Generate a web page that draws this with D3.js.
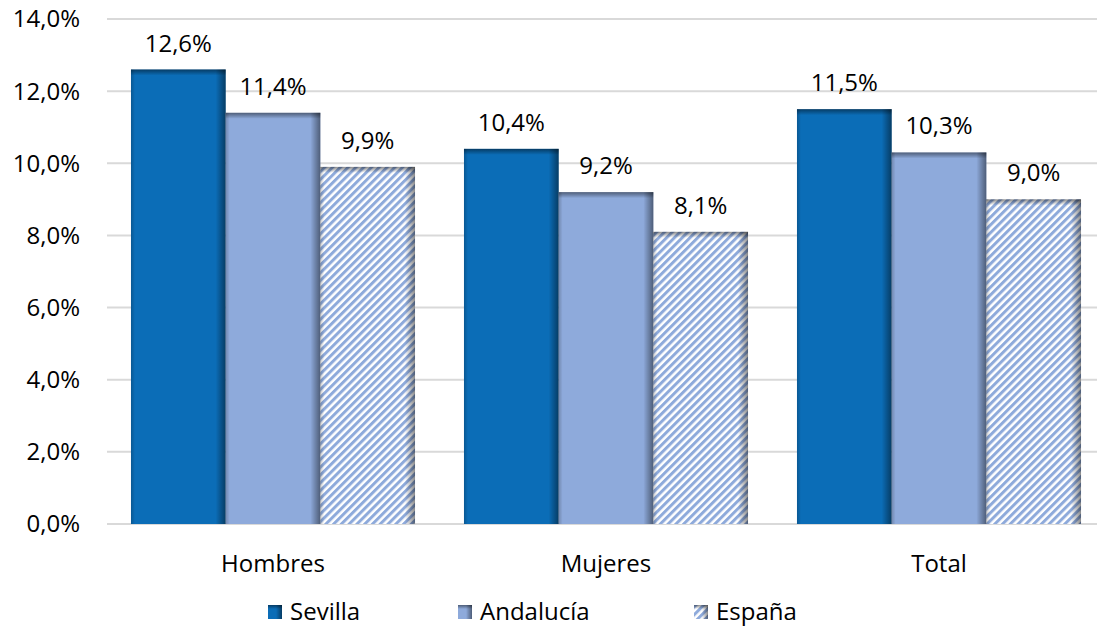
<!DOCTYPE html>
<html>
<head>
<meta charset="utf-8">
<script src="https://cdn.jsdelivr.net/npm/d3@7/dist/d3.min.js"></script>
<style>
  body { margin: 0; background: #fff; }
  text { font-family: "Open Sans", "Noto Sans", sans-serif; fill: #000; }
</style>
</head>
<body>
<svg id="chart" width="1100" height="627"></svg>
<script>
// data
var categories = ['Hombres', 'Mujeres', 'Total'];
var seriesNames = ['Sevilla', 'Andalucía', 'España'];
var sevilla = [12.6, 10.4, 11.5];
var andalucia = [11.4, 9.2, 10.3];
var espana = [9.9, 8.1, 9.0];
var yTicks = [0, 2, 4, 6, 8, 10, 12, 14];

var seriesValues = [sevilla, andalucia, espana];

var svg = d3.select('#chart');
var fmt = v => d3.format('.1f')(v).replace('.', ',') + '%';

var y = d3.scaleLinear().domain([0, 14]).range([524, 19]);
var x0 = d3.scaleBand().domain(categories).range([106.5, 1105.5])
  .paddingInner(0.147).paddingOuter(0.0735);
var x1 = d3.scaleBand().domain(seriesNames).range([0, x0.bandwidth()]);

var defs = svg.append('defs');

// hatch pattern for España
var pat = defs.append('pattern')
  .attr('id', 'hatch')
  .attr('patternUnits', 'userSpaceOnUse')
  .attr('width', 5.5).attr('height', 5.5)
  .attr('patternTransform', 'rotate(45)');
pat.append('rect').attr('width', 5.5).attr('height', 5.5).attr('fill', '#fff');
pat.append('rect').attr('width', 3).attr('height', 5.5).attr('fill', '#8eaadb');

// bevel gradients
var gr = defs.append('linearGradient').attr('id', 'shadeRight')
  .attr('x1', 0).attr('x2', 1).attr('y1', 0).attr('y2', 0);
gr.append('stop').attr('offset', '0%').attr('stop-color', '#000').attr('stop-opacity', 0);
gr.append('stop').attr('offset', '100%').attr('stop-color', '#000').attr('stop-opacity', 0.45);

var gt = defs.append('linearGradient').attr('id', 'shadeTop')
  .attr('x1', 0).attr('x2', 0).attr('y1', 0).attr('y2', 1);
gt.append('stop').attr('offset', '0%').attr('stop-color', '#000').attr('stop-opacity', 0.45);
gt.append('stop').attr('offset', '100%').attr('stop-color', '#000').attr('stop-opacity', 0);

var gl = defs.append('linearGradient').attr('id', 'shadeLeft')
  .attr('x1', 0).attr('x2', 1).attr('y1', 0).attr('y2', 0);
gl.append('stop').attr('offset', '0%').attr('stop-color', '#000').attr('stop-opacity', 0.2);
gl.append('stop').attr('offset', '100%').attr('stop-color', '#000').attr('stop-opacity', 0);

var fills = ['#0b6db7', '#8eaadb', 'url(#hatch)'];

// gridlines
svg.append('g').selectAll('line').data(yTicks).enter()
  .append('line')
  .attr('x1', 107).attr('x2', 1097)
  .attr('y1', d => y(d)).attr('y2', d => y(d))
  .attr('stroke', '#d9d9d9').attr('stroke-width', 2);

// y axis labels
svg.append('g').selectAll('text').data(yTicks).enter()
  .append('text')
  .attr('x', 80).attr('y', d => y(d))
  .attr('dy', '0.35em')
  .attr('text-anchor', 'end')
  .style('font-size', '24px')
  .text(fmt);

// bars
var bars = [];
categories.forEach(function(c, i) {
  seriesNames.forEach(function(s, j) {
    bars.push({cat: c, s: s, j: j, v: seriesValues[j][i]});
  });
});

var g = svg.append('g');
var bx = d => x0(d.cat) + x1(d.s);
var bw = x1.bandwidth();

g.selectAll('.bar').data(bars).enter()
  .append('rect').attr('class', 'bar')
  .attr('x', bx).attr('y', d => y(d.v))
  .attr('width', bw).attr('height', d => y(0) - y(d.v))
  .attr('fill', d => fills[d.j]);

// bevel: right edge, top edge, left edge
g.selectAll('.shr').data(bars).enter()
  .append('rect')
  .attr('x', d => bx(d) + bw - 10).attr('y', d => y(d.v))
  .attr('width', 10).attr('height', d => y(0) - y(d.v))
  .attr('fill', 'url(#shadeRight)');
g.selectAll('.sht').data(bars).enter()
  .append('rect')
  .attr('x', bx).attr('y', d => y(d.v))
  .attr('width', bw).attr('height', 6)
  .attr('fill', 'url(#shadeTop)');
g.selectAll('.shl').data(bars).enter()
  .append('rect')
  .attr('x', bx).attr('y', d => y(d.v))
  .attr('width', 4).attr('height', d => y(0) - y(d.v))
  .attr('fill', 'url(#shadeLeft)');

// value labels
g.selectAll('.lbl').data(bars).enter()
  .append('text')
  .attr('x', d => bx(d) + bw / 2)
  .attr('y', d => y(d.v) - 18)
  .attr('text-anchor', 'middle')
  .style('font-size', '24px')
  .text(d => fmt(d.v));

// category labels
svg.append('g').selectAll('text').data(categories).enter()
  .append('text')
  .attr('x', d => x0(d) + x0.bandwidth() / 2)
  .attr('y', 572)
  .attr('text-anchor', 'middle')
  .style('font-size', '24px')
  .text(d => d);

// legend
var legX = [268, 458, 694];
var leg = svg.append('g').selectAll('g').data(seriesNames).enter()
  .append('g')
  .attr('transform', (d, i) => 'translate(' + legX[i] + ',605)');
leg.append('rect')
  .attr('width', 14).attr('height', 14)
  .attr('fill', (d, i) => fills[i]);
leg.append('rect')
  .attr('x', 8).attr('width', 6).attr('height', 14)
  .attr('fill', 'url(#shadeRight)');
leg.append('rect')
  .attr('width', 14).attr('height', 4)
  .attr('fill', 'url(#shadeTop)');
leg.append('text')
  .attr('x', 22).attr('y', 7).attr('dy', '0.35em')
  .style('font-size', '24px')
  .text(d => d);
</script>
</body>
</html>
